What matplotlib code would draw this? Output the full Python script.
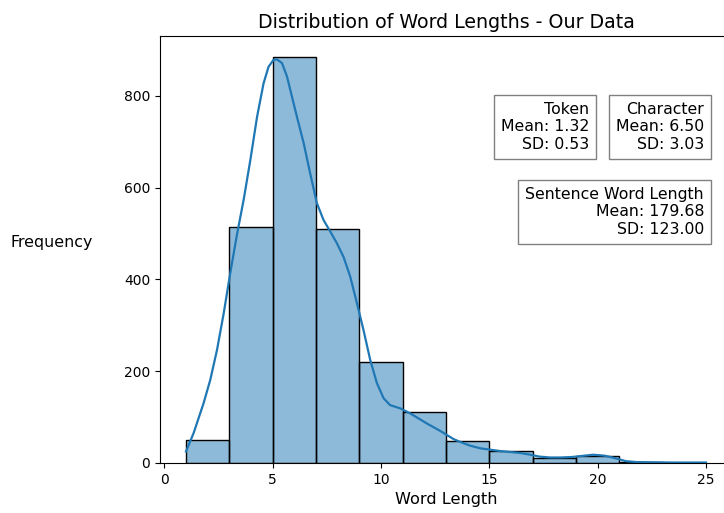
import numpy as np
from matplotlib import pyplot as plt


# histogram bins (word length) and counts
bin_edges = [1, 3, 5, 7, 9, 11, 13, 15, 17, 19, 21, 23, 25]
counts = [50, 514, 885, 510, 220, 110, 48, 26, 11, 15, 2, 1]

# kde curve (scaled to counts)
kde_x = [1.00, 1.35, 1.81, 2.12, 2.43, 2.74, 3.04, 3.35, 3.66, 3.97, 4.28,
         4.58, 4.81, 5.04, 5.20, 5.43, 5.66, 5.89, 6.12, 6.43, 6.73, 7.04,
         7.35, 7.66, 7.96, 8.27, 8.58, 8.89, 9.19, 9.50, 9.81, 10.12, 10.42,
         10.89, 11.35, 12.12, 12.73, 13.35, 13.65, 14.1, 14.58, 15.5, 16.4,
         16.9, 17.3, 17.8, 18.27, 18.8, 19.2, 19.8, 20.3, 20.6, 21.0, 21.3,
         21.8, 22.5, 23.5, 25.0]
kde_y = [25, 65, 130, 181, 246, 326, 413, 497, 573, 660, 754,
         827, 863, 878, 879, 871, 842, 798, 754, 697, 631, 566,
         529, 504, 479, 449, 406, 348, 290, 225, 174, 141, 126,
         119, 108, 86, 70, 52, 46, 38, 32, 26, 22,
         18, 14, 12, 12, 13, 15, 18, 16, 13, 8, 4,
         2, 1.5, 1, 1]

boxes = [
    ("Token\nMean: 1.32\nSD: 0.53", 589, 102),
    ("Character\nMean: 6.50\nSD: 3.03", 704, 102),
    ("Sentence Word Length\nMean: 179.68\nSD: 123.00", 704, 187),
]

fig = plt.figure(figsize=(7.24, 5.13), dpi=100)
ax = fig.add_axes([160 / 724, 1 - 463 / 513, 572 / 724, 427 / 513])

widths = np.diff(bin_edges)
ax.bar(bin_edges[:-1], counts, width=widths, align='edge',
       color='#1f77b4', alpha=0.5, edgecolor='none')
ax.bar(bin_edges[:-1], counts, width=widths, align='edge',
       fill=False, edgecolor='black', linewidth=1)
ax.plot(kde_x, kde_y, color='#1f77b4', linewidth=1.6)

ax.set_xlim(-0.2, 26.2)
ax.set_ylim(0, 930)
ax.set_xticks([0, 5, 10, 15, 20, 25])
ax.set_yticks([0, 200, 400, 600, 800])
ax.set_title("Distribution of Word Lengths - Our Data", fontsize=13.7)
ax.set_xlabel("Word Length", fontsize=11.6)
ax.set_ylabel("Frequency", rotation=0, fontsize=11.4, labelpad=52)

for txt, px, py in boxes:
    fig.text(px / 724, 1 - py / 513, txt, ha='right', va='top',
             multialignment='right', fontsize=11.3,
             bbox=dict(boxstyle='square,pad=0.45', facecolor='white',
                       edgecolor='gray'))

fig.savefig('out.png', dpi=100)
